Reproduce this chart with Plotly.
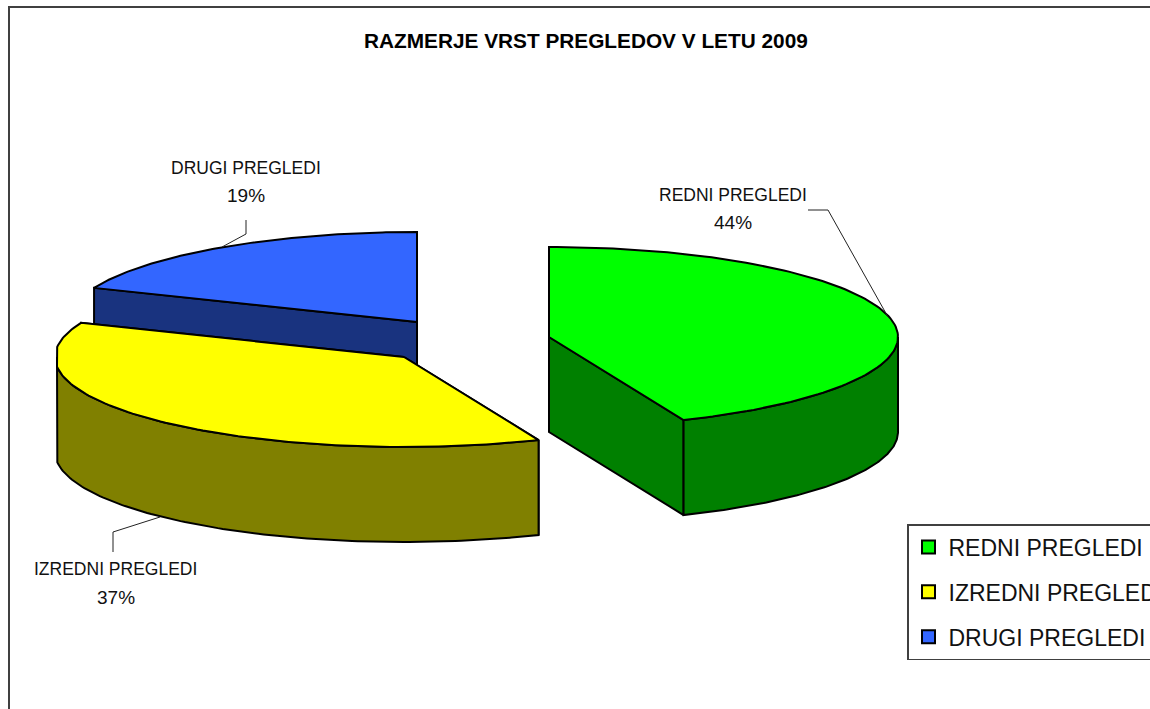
import numpy as np
import plotly.graph_objects as go

# --- data ---
categories = ["REDNI PREGLEDI", "IZREDNI PREGLEDI", "DRUGI PREGLEDI"]
values = [43.7, 37.49, 18.81]
percent_labels = ["44%", "37%", "19%"]
title_text = "RAZMERJE VRST PREGLEDOV V LETU 2009"

# --- style ---
top_colors = ["#00FF00", "#FFFF00", "#3366FF"]
wall_colors = ["#008000", "#808000", "#19337F"]
centers = [(549, 337), (404, 357), (417, 322)]   # exploded slice centres
RX, RY, DEPTH = 349, 90, 95
FONT = "Liberation Sans, Arial, sans-serif"
XMIN = 57  # the reference's outline flattens at the far left

fractions = np.array(values) / sum(values)
edges = np.concatenate([[0], np.cumsum(fractions)]) * 2 * np.pi


def rim(c, a0, a1, n=120):
    t = np.linspace(a0, a1, n)
    x = c[0] + RX * np.sin(t)
    y = c[1] - RY * np.cos(t)
    return np.maximum(x, XMIN), y


def poly(fig, x, y, fill):
    fig.add_trace(go.Scatter(
        x=list(x), y=list(y), mode="lines", fill="toself", fillcolor=fill,
        line=dict(color="black", width=2), showlegend=False, hoverinfo="skip"))


fig = go.Figure()

# draw order: blue (back), green, yellow (front)
for i in [2, 0, 1]:
    c = centers[i]
    a0, a1 = edges[i], edges[i + 1]
    # side walls running in from the centre
    for a in (a0, a1):
        ex, ey = rim(c, a, a, 1)
        poly(fig, [c[0], ex[0], ex[0], c[0], c[0]],
             [c[1], ey[0], ey[0] + DEPTH, c[1] + DEPTH, c[1]], wall_colors[i])
    # visible outer wall: the front half of the ellipse
    w0, w1 = max(a0, np.pi / 2), min(a1, 3 * np.pi / 2)
    if w1 > w0:
        wx, wy = rim(c, w0, w1)
        poly(fig, np.r_[wx, wx[::-1], wx[0]], np.r_[wy, wy[::-1] + DEPTH, wy[0]], wall_colors[i])
    # top face
    tx, ty = rim(c, a0, a1)
    poly(fig, np.r_[c[0], tx, c[0]], np.r_[c[1], ty, c[1]], top_colors[i])

# legend entries
for i, name in enumerate(categories):
    fig.add_trace(go.Scatter(
        x=[None], y=[None], mode="markers", name=name, legendgroup=name,
        marker=dict(symbol="square", size=13, color=top_colors[i],
                    line=dict(color="black", width=2))))

# leader lines
leaders = [
    ([808, 828, 888], [210, 210, 317]),
    ([113, 113, 160], [552, 532, 517]),
    ([246, 246, 222], [220, 234, 247]),
]
for lx, ly in leaders:
    fig.add_trace(go.Scatter(x=lx, y=ly, mode="lines", showlegend=False, hoverinfo="skip",
                             line=dict(color="#222222", width=1)))

annotations = [dict(x=586, y=40, text="<b>%s</b>" % title_text, showarrow=False,
                    font=dict(family=FONT, size=20.8, color="black"))]
label_pos = [(733, 195, 222), (115.5, 569, 597), (246, 168, 195)]
for i, (lx, y1, y2) in enumerate(label_pos):
    annotations.append(dict(x=lx, y=y1, text=categories[i], showarrow=False,
                            font=dict(family=FONT, size=17.5, color="#111111")))
    annotations.append(dict(x=lx, y=y2, text=percent_labels[i], showarrow=False,
                            font=dict(family=FONT, size=19, color="#111111")))

fig.update_layout(
    width=1150, height=709,
    margin=dict(l=0, r=0, t=0, b=0, autoexpand=False),
    paper_bgcolor="white", plot_bgcolor="white",
    xaxis=dict(range=[0, 1150], visible=False, fixedrange=True),
    yaxis=dict(range=[709, 0], visible=False, fixedrange=True),
    annotations=annotations,
    shapes=[dict(type="rect", xref="x", yref="y", x0=9, y0=7, x1=1400, y1=900,
                 line=dict(color="#404040", width=2), layer="below")],
    legend=dict(x=907 / 1150, y=1 - 524 / 709, xanchor="left", yanchor="top",
                bgcolor="white", bordercolor="#404040", borderwidth=1.5,
                font=dict(family=FONT, size=23, color="#111111"),
                itemwidth=30, tracegroupgap=12, traceorder="grouped"),
)

fig.write_html("out.html", config={"displayModeBar": False},
               post_script="document.body.style.margin='0';document.documentElement.style.overflow='hidden';")
